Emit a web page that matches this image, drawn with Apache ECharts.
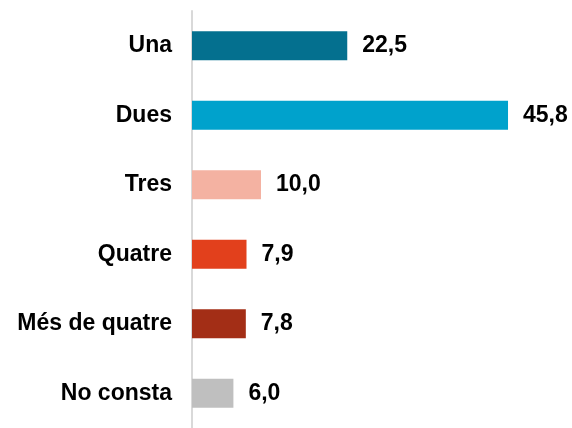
<!DOCTYPE html>
<html>
<head>
<meta charset="utf-8">
<script src="https://cdn.jsdelivr.net/npm/echarts@6/dist/echarts.min.js"></script>
<style>
  html, body { margin: 0; padding: 0; background: #fff; }
  #chart { width: 572px; height: 428px; }
</style>
</head>
<body>
<div id="chart"></div>
<script>
var categories = ["Una", "Dues", "Tres", "Quatre", "Més de quatre", "No consta"];
var values = [22.5, 45.8, 10.0, 7.9, 7.8, 6.0];
var colors = ["#04708F", "#00A2CC", "#F4B2A2", "#E2401C", "#A32E16", "#BFBFBF"];

var chart = echarts.init(document.getElementById("chart"));
chart.setOption({
  animation: false,
  grid: { left: 192, right: 35, top: 11, height: 422 },
  xAxis: {
    type: "value",
    min: 0,
    max: 50,
    show: false
  },
  yAxis: {
    type: "category",
    inverse: true,
    data: categories,
    axisLine: { lineStyle: { color: "#D9D9D9", width: 2 } },
    axisTick: { show: false },
    axisLabel: {
      margin: 20,
      color: "#000",
      fontFamily: "Liberation Sans, Arial, sans-serif",
      fontWeight: "bold",
      fontSize: 23
    }
  },
  series: [{
    type: "bar",
    barWidth: 29,
    data: values.map(function (v, i) {
      return { value: v, itemStyle: { color: colors[i] } };
    }),
    label: {
      show: true,
      position: "right",
      distance: 15,
      color: "#000",
      fontFamily: "Liberation Sans, Arial, sans-serif",
      fontWeight: "bold",
      fontSize: 23,
      formatter: function (p) { return p.value.toFixed(1).replace(".", ","); }
    }
  }]
});
</script>
</body>
</html>
